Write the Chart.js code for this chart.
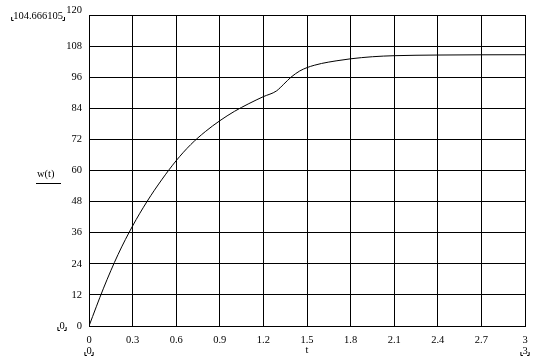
<!DOCTYPE html>
<html>
<head>
<meta charset="utf-8">
<script src="https://cdn.jsdelivr.net/npm/chart.js@4/dist/chart.umd.min.js"></script>
<style>
  body { margin: 0; background: #fff; }
  #wrap { width: 548px; height: 357px; }
</style>
</head>
<body>
<div id="wrap"><canvas id="c" width="548" height="357"></canvas></div>
<script>
// values
const tValues = [0, 0.1, 0.2, 0.3, 0.4, 0.5, 0.6, 0.7, 0.8, 0.9, 1.0, 1.1, 1.2,
  1.29, 1.34, 1.39, 1.45, 1.5, 1.55, 1.6, 1.7, 1.8, 1.95, 2.1, 2.4, 2.7, 3.0];
const wValues = [0, 14.6, 27.6, 38.6, 48.1, 56.4, 63.8, 70.0, 75.0, 79.2, 82.8, 85.8, 88.5,
  90.7, 93.3, 96, 98.4, 99.7, 100.6, 101.3, 102.3, 103.1, 103.9, 104.3, 104.55, 104.64, 104.67];
const xTicks = [0, 0.3, 0.6, 0.9, 1.2, 1.5, 1.8, 2.1, 2.4, 2.7, 3];
const yTicks = [0, 12, 24, 36, 48, 60, 72, 84, 96, 108, 120];
const yMarker = "104.666105";
const xLabel = "t";
const yLabel = "w(t)";

const FONT = "'Liberation Serif', serif";
const SIZE = 10.5;

const points = tValues.map((t, i) => ({ x: t, y: wValues[i] }));

// mathcad style limit labels with little corner marks
function marked(ctx, text, x, y, align) {
  ctx.textAlign = align;
  ctx.fillText(text, x, y);
  const w = ctx.measureText(text).width;
  const l = align === "center" ? x - w / 2 : align === "right" ? x - w : x;
  const r = l + w;
  ctx.beginPath();
  ctx.moveTo(l - 1.5, y + 1);
  ctx.lineTo(l - 1.5, y + 4.5);
  ctx.lineTo(l + 0.5, y + 4.5);
  ctx.moveTo(r + 1.5, y + 1);
  ctx.lineTo(r + 1.5, y + 4.5);
  ctx.lineTo(r - 0.5, y + 4.5);
  ctx.stroke();
}

const extras = {
  id: "extras",
  afterDraw(chart) {
    const ctx = chart.ctx;
    const xs = chart.scales.x, ys = chart.scales.y;
    ctx.save();
    ctx.fillStyle = "#000";
    ctx.strokeStyle = "#000";
    ctx.lineWidth = 1;
    ctx.font = SIZE + "px " + FONT;
    ctx.textBaseline = "middle";
    // top tick label sits above the frame, like the original
    ctx.textAlign = "right";
    ctx.fillText(String(ys.max), 82, ys.getPixelForValue(ys.max) - 5);
    marked(ctx, yMarker, 63, 16, "right");
    marked(ctx, String(ys.min), 62, ys.getPixelForValue(ys.min), "center");
    marked(ctx, String(xs.min), xs.getPixelForValue(xs.min), 351, "center");
    marked(ctx, String(xs.max), xs.getPixelForValue(xs.max), 351, "center");
    // y label with underline
    ctx.textAlign = "left";
    ctx.fillText(yLabel, 37, 174);
    ctx.beginPath();
    ctx.moveTo(36, 183.5);
    ctx.lineTo(61, 183.5);
    ctx.stroke();
    ctx.restore();
  }
};

new Chart(document.getElementById("c"), {
  type: "scatter",
  data: {
    datasets: [{
      data: points,
      showLine: true,
      borderColor: "#000",
      borderWidth: 1,
      pointRadius: 0,
      cubicInterpolationMode: "monotone",
      fill: false
    }]
  },
  options: {
    responsive: false,
    animation: false,
    events: [],
    layout: { padding: { left: 0, right: 23, top: 15, bottom: 0 } },
    plugins: { legend: { display: false }, tooltip: { enabled: false } },
    scales: {
      x: {
        type: "linear",
        min: 0,
        max: 3,
        afterBuildTicks: s => { s.ticks = xTicks.map(v => ({ value: v })); },
        afterFit: s => { s.height = 31; },
        grid: { color: "#000", lineWidth: 1, drawTicks: false },
        border: { color: "#000", width: 1 },
        ticks: {
          color: "#000",
          font: { family: FONT, size: SIZE },
          padding: 8,
          maxRotation: 0,
          callback: v => String(Math.round(v * 10) / 10)
        },
        title: {
          display: true,
          text: xLabel,
          color: "#000",
          font: { family: FONT, size: SIZE },
          padding: { top: 0, bottom: 0 }
        }
      },
      y: {
        min: 0,
        max: 120,
        afterBuildTicks: s => { s.ticks = yTicks.map(v => ({ value: v })); },
        afterFit: s => { s.width = 89; },
        grid: { color: "#000", lineWidth: 1, drawTicks: false },
        border: { color: "#000", width: 1 },
        ticks: {
          color: "#000",
          font: { family: FONT, size: SIZE },
          padding: 7,
          callback: v => (v === 120 ? "" : String(v))
        }
      }
    }
  },
  plugins: [extras]
});
</script>
</body>
</html>
